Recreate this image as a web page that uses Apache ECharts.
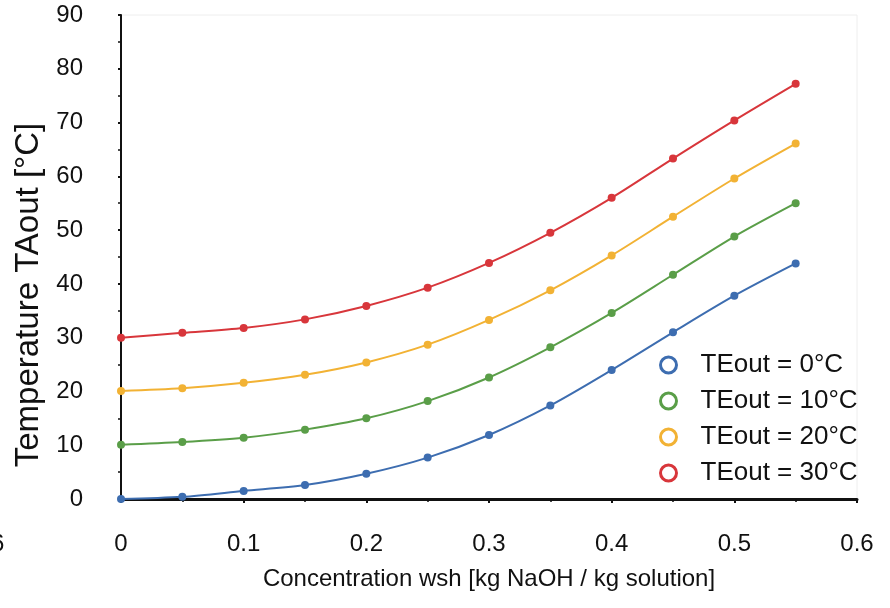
<!DOCTYPE html>
<html>
<head>
<meta charset="utf-8">
<title>Temperature TAout</title>
<script src="https://cdn.jsdelivr.net/npm/echarts@6/dist/echarts.min.js"></script>
<style>
  html, body { margin: 0; padding: 0; background: #fff; }
  #main { width: 890px; height: 608px; }
</style>
</head>
<body>
<div id="main"></div>
<script>
// concentration wsh [kg NaOH / kg solution]
var conc = [0, 0.05, 0.1, 0.15, 0.2, 0.25, 0.3, 0.35, 0.4, 0.45, 0.5, 0.55];
var names = ['TEout = 0°C', 'TEout = 10°C', 'TEout = 20°C', 'TEout = 30°C'];
var colors = ['#3d6db0', '#5a9e48', '#f2b234', '#d8363b'];
// temperature TAout [°C]
var te0  = [0.0, 0.4, 1.5, 2.6, 4.7, 7.7, 11.9, 17.4, 24.0, 31.0, 37.8, 43.8];
var te10 = [10.1, 10.6, 11.4, 12.9, 15.0, 18.2, 22.6, 28.2, 34.6, 41.7, 48.8, 55.0];
var te20 = [20.1, 20.6, 21.6, 23.1, 25.4, 28.7, 33.3, 38.8, 45.3, 52.5, 59.6, 66.1];
var te30 = [30.0, 30.9, 31.8, 33.4, 35.9, 39.3, 43.9, 49.5, 56.0, 63.3, 70.4, 77.2];
var yTicks = [0, 10, 20, 30, 40, 50, 60, 70, 80, 90];

var font = "'Liberation Sans', Arial, sans-serif";
var allSeries = [te0, te10, te20, te30];

function pairs(vals) {
  return conc.map(function (x, i) { return [x, vals[i]]; });
}

var myChart = echarts.init(document.getElementById('main'));
var option = {
  backgroundColor: '#fff',
  animation: false,
  textStyle: { fontFamily: font },
  grid: {
    left: 121, right: 33, top: 15, bottom: 109,
    show: true, borderColor: '#eeeeee', borderWidth: 1
  },
  legend: {
    orient: 'vertical',
    left: 654,
    top: 347,
    itemWidth: 40,
    itemHeight: 16,
    itemGap: 10,
    symbolKeepAspect: true,
    textStyle: { fontSize: 26, lineHeight: 26, color: '#111', fontFamily: font, padding: [0, 0, 0, 7] },
    data: names.map(function (n, i) {
      return {
        name: n,
        icon: 'circle',
        itemStyle: { color: '#fff', borderColor: colors[i], borderWidth: 3 }
      };
    })
  },
  graphic: [{
    type: 'text', left: -9, top: 532,
    style: { text: '6', fontSize: 24, fontFamily: font, fill: '#111' }
  }],
  xAxis: {
    type: 'value',
    min: 0, max: 0.6, interval: 0.1,
    name: 'Concentration wsh [kg NaOH / kg solution]',
    nameLocation: 'middle',
    nameGap: 68,
    nameTextStyle: { fontSize: 24, color: '#111', fontFamily: font },
    axisLine: { onZero: false, lineStyle: { color: '#111', width: 3 } },
    axisTick: { show: true, inside: false, length: 4, lineStyle: { color: '#111', width: 2 } },
    minorTick: { show: true, splitNumber: 2, length: 3, lineStyle: { color: '#111', width: 1.5 } },
    axisLabel: { fontSize: 24, color: '#111', margin: 33, fontFamily: font },
    splitLine: { show: false }
  },
  yAxis: {
    type: 'value',
    min: yTicks[0], max: yTicks[yTicks.length - 1], interval: 10,
    name: 'Temperature TAout [°C]',
    nameLocation: 'middle',
    nameGap: 72,
    nameTextStyle: { fontSize: 33, color: '#111', fontFamily: font, padding: [0, 76, 0, 0] },
    axisLine: { show: true, lineStyle: { color: '#111', width: 2 } },
    axisTick: { show: true, inside: false, length: 3, lineStyle: { color: '#111', width: 2 } },
    minorTick: { show: true, splitNumber: 2, length: 3, lineStyle: { color: '#111', width: 1.5 } },
    axisLabel: { fontSize: 24, color: '#111', margin: 38, fontFamily: font },
    splitLine: { show: false }
  },
  series: allSeries.map(function (vals, i) {
    return {
      name: names[i],
      type: 'line',
      smooth: 0.3,
      symbol: 'circle',
      symbolSize: 8,
      color: colors[i],
      lineStyle: { width: 2, color: colors[i] },
      itemStyle: { color: colors[i] },
      data: pairs(vals)
    };
  })
};
myChart.setOption(option);
</script>
</body>
</html>
